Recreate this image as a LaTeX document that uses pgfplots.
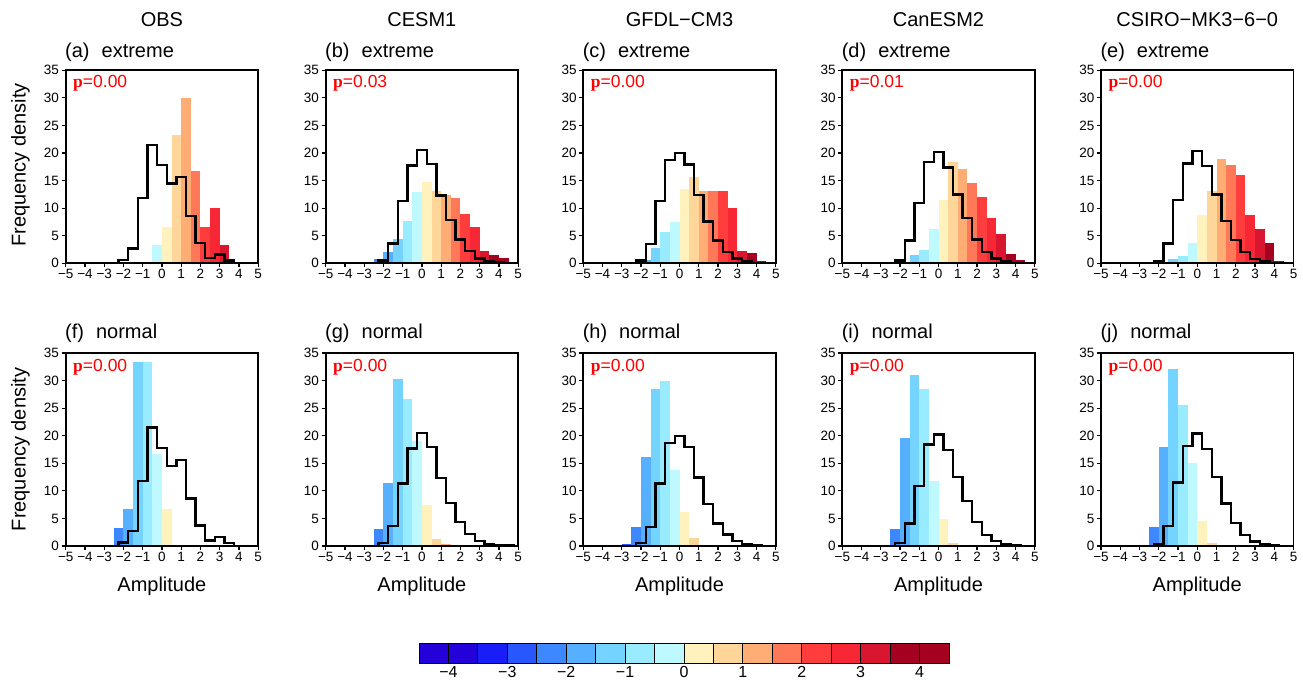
\documentclass[border=0pt]{standalone}
\usepackage{pgfplots}
\usepackage{pgfplotstable}
\pgfplotsset{compat=1.18}
\usepackage{fontspec}
\setmainfont{Liberation Sans}
\newfontfamily\serifp{Liberation Serif}

% colour boxes of the colour bar, -4.5 ... 4.5 in steps of 0.5
\definecolor{c01}{RGB}{36,0,217}
\definecolor{c02}{RGB}{36,0,217}
\definecolor{c03}{RGB}{25,29,247}
\definecolor{c04}{RGB}{41,87,255}
\definecolor{c05}{RGB}{61,135,255}
\definecolor{c06}{RGB}{87,176,255}
\definecolor{c07}{RGB}{117,211,255}
\definecolor{c08}{RGB}{153,235,255}
\definecolor{c09}{RGB}{189,249,255}
\definecolor{c10}{RGB}{255,242,189}
\definecolor{c11}{RGB}{255,214,153}
\definecolor{c12}{RGB}{255,172,117}
\definecolor{c13}{RGB}{255,120,87}
\definecolor{c14}{RGB}{255,61,61}
\definecolor{c15}{RGB}{247,39,54}
\definecolor{c16}{RGB}{217,22,48}
\definecolor{c17}{RGB}{166,0,33}
\definecolor{c18}{RGB}{166,0,33}

% step outlines (left edge, density)
\pgfplotstableread{
x y
-5 0
-2.25 0.6
-1.75 2.7
-1.25 11.8
-0.75 21.5
-0.25 17.8
0.25 14.5
0.75 15.6
1.25 8.6
1.75 3.7
2.25 1.0
2.75 1.6
3.25 0.5
3.75 0
5 0
}\stOBS
\pgfplotstableread{
x y
-5 0
-2.25 0.5
-1.75 3.6
-1.25 11.3
-0.75 17.7
-0.25 20.5
0.25 18.0
0.75 12.3
1.25 7.8
1.75 4.3
2.25 2.2
2.75 0.9
3.25 0.3
3.75 0.2
4.25 0.1
4.75 0
5 0
}\stCESM
\pgfplotstableread{
x y
-5 0
-2.25 0.5
-1.75 3.5
-1.25 11.3
-0.75 18.7
-0.25 20.0
0.25 17.9
0.75 12.4
1.25 7.6
1.75 4.1
2.25 2.1
2.75 0.9
3.25 0.3
3.75 0.1
4.25 0
5 0
}\stGFDL
\pgfplotstableread{
x y
-5 0
-2.25 0.5
-1.75 4.1
-1.25 10.9
-0.75 18.4
-0.25 20.2
0.25 17.4
0.75 12.5
1.25 8.2
1.75 4.3
2.25 2.0
2.75 0.9
3.25 0.3
3.75 0.1
4.25 0
5 0
}\stCan
\pgfplotstableread{
x y
-5 0
-2.25 0.4
-1.75 3.6
-1.25 11.5
-0.75 18.1
-0.25 20.4
0.25 17.6
0.75 12.5
1.25 7.7
1.75 4.2
2.25 2.0
2.75 0.8
3.25 0.4
3.75 0.1
4.25 0
5 0
}\stCSIRO

\pgfplotsset{
  panel/.style={
    scale only axis, width=192.5pt, height=193pt,
    anchor=south west,
    xmin=-5, xmax=5, ymin=0, ymax=35,
    xtick={-5,...,5}, ytick={0,5,...,35},
    xticklabels={−5,−4,−3,−2,−1,0,1,2,3,4,5},
    yticklabels={0,5,10,15,20,25,30,35},
    tick pos=left, tick align=outside,
    major tick length=4pt,
    tick style={black, line width=1.2pt},
    axis line style={line width=1.9pt},
    tick label style={font=\fontsize{13.5}{14}\selectfont},
    xticklabel style={inner sep=2pt},
    yticklabel style={inner sep=2.5pt},
    axis on top,
  },
  hb/.style={ybar, bar width=0.5, bar shift=0pt, draw=none, fill=#1},
  stepl/.style={const plot, black, line width=2.4pt, no marks},
}
\tikzset{
  pval/.style={anchor=west, inner sep=0pt, text=red, font=\fontsize{17.5}{18}\selectfont},
  ttl/.style={font=\fontsize{20}{24}\selectfont, inner sep=0pt},
}
\newcommand\pv[1]{{\serifp\bfseries p}=#1}

\begin{document}
\begin{tikzpicture}[x=1pt,y=1pt]
\path[use as bounding box] (0,0) rectangle (1303,683);

% ---------- top row: extreme ----------
\begin{axis}[panel, at={(65.7pt,419.7pt)}]
\addplot[hb=c09] coordinates {(-0.25,3.33)};
\addplot[hb=c10] coordinates {(0.25,6.67)};
\addplot[hb=c11] coordinates {(0.75,23.33)};
\addplot[hb=c12] coordinates {(1.25,30)};
\addplot[hb=c13] coordinates {(1.75,16.67)};
\addplot[hb=c14] coordinates {(2.25,6.67)};
\addplot[hb=c15] coordinates {(2.75,10)};
\addplot[hb=c16] coordinates {(3.25,3.33)};
\addplot[stepl] table {\stOBS};
\node[pval] at (rel axis cs:0.038,0.935) {\pv{0.00}};
\end{axis}

\begin{axis}[panel, at={(325.7pt,419.7pt)}]
\addplot[hb=c04] coordinates {(-2.75,0.2)};
\addplot[hb=c05] coordinates {(-2.25,0.8)};
\addplot[hb=c06] coordinates {(-1.75,2.1)};
\addplot[hb=c07] coordinates {(-1.25,4.4)};
\addplot[hb=c08] coordinates {(-0.75,7.6)};
\addplot[hb=c09] coordinates {(-0.25,13.0)};
\addplot[hb=c10] coordinates {(0.25,14.8)};
\addplot[hb=c11] coordinates {(0.75,13.1)};
\addplot[hb=c12] coordinates {(1.25,12.4)};
\addplot[hb=c13] coordinates {(1.75,11.9)};
\addplot[hb=c14] coordinates {(2.25,9.0)};
\addplot[hb=c15] coordinates {(2.75,6.6)};
\addplot[hb=c16] coordinates {(3.25,2.3)};
\addplot[hb=c17] coordinates {(3.75,1.5)};
\addplot[hb=c18] coordinates {(4.25,1.0)};
\addplot[stepl] table {\stCESM};
\node[pval] at (rel axis cs:0.038,0.935) {\pv{0.03}};
\end{axis}

\begin{axis}[panel, at={(583.3pt,419.7pt)}]
\addplot[hb=c05] coordinates {(-2.25,0.3)};
\addplot[hb=c06] coordinates {(-1.75,0.6)};
\addplot[hb=c07] coordinates {(-1.25,2.7)};
\addplot[hb=c08] coordinates {(-0.75,5.7)};
\addplot[hb=c09] coordinates {(-0.25,7.4)};
\addplot[hb=c10] coordinates {(0.25,13.5)};
\addplot[hb=c11] coordinates {(0.75,15.7)};
\addplot[hb=c12] coordinates {(1.25,13.1)};
\addplot[hb=c13] coordinates {(1.75,13.1)};
\addplot[hb=c14] coordinates {(2.25,13.1)};
\addplot[hb=c15] coordinates {(2.75,10.1)};
\addplot[hb=c16] coordinates {(3.25,2.3)};
\addplot[hb=c17] coordinates {(3.75,1.9)};
\addplot[hb=c18] coordinates {(4.25,0.4)};
\addplot[stepl] table {\stGFDL};
\node[pval] at (rel axis cs:0.038,0.935) {\pv{0.00}};
\end{axis}

\begin{axis}[panel, at={(842.3pt,419.7pt)}]
\addplot[hb=c06] coordinates {(-1.75,0.2)};
\addplot[hb=c07] coordinates {(-1.25,1.5)};
\addplot[hb=c08] coordinates {(-0.75,2.4)};
\addplot[hb=c09] coordinates {(-0.25,6.2)};
\addplot[hb=c10] coordinates {(0.25,11.5)};
\addplot[hb=c11] coordinates {(0.75,18.4)};
\addplot[hb=c12] coordinates {(1.25,17.1)};
\addplot[hb=c13] coordinates {(1.75,14.5)};
\addplot[hb=c14] coordinates {(2.25,12.1)};
\addplot[hb=c15] coordinates {(2.75,8.3)};
\addplot[hb=c16] coordinates {(3.25,5.3)};
\addplot[hb=c17] coordinates {(3.75,1.7)};
\addplot[hb=c18] coordinates {(4.25,0.6)};
\addplot[stepl] table {\stCan};
\node[pval] at (rel axis cs:0.038,0.935) {\pv{0.01}};
\end{axis}

\begin{axis}[panel, at={(1101pt,419.7pt)}]
\addplot[hb=c07] coordinates {(-1.25,0.8)};
\addplot[hb=c08] coordinates {(-0.75,1.3)};
\addplot[hb=c09] coordinates {(-0.25,3.75)};
\addplot[hb=c10] coordinates {(0.25,8.7)};
\addplot[hb=c11] coordinates {(0.75,13.1)};
\addplot[hb=c12] coordinates {(1.25,19.0)};
\addplot[hb=c13] coordinates {(1.75,17.9)};
\addplot[hb=c14] coordinates {(2.25,16.1)};
\addplot[hb=c15] coordinates {(2.75,8.8)};
\addplot[hb=c16] coordinates {(3.25,6.2)};
\addplot[hb=c17] coordinates {(3.75,3.6)};
\addplot[hb=c18] coordinates {(4.25,0.4)};
\addplot[stepl] table {\stCSIRO};
\node[pval] at (rel axis cs:0.038,0.935) {\pv{0.00}};
\end{axis}

% ---------- bottom row: normal ----------
\begin{axis}[panel, at={(65.7pt,137pt)}]
\addplot[hb=c05] coordinates {(-2.25,3.33)};
\addplot[hb=c06] coordinates {(-1.75,6.67)};
\addplot[hb=c07] coordinates {(-1.25,33.33)};
\addplot[hb=c08] coordinates {(-0.75,33.33)};
\addplot[hb=c09] coordinates {(-0.25,16.67)};
\addplot[hb=c10] coordinates {(0.25,6.67)};
\addplot[stepl] table {\stOBS};
\node[pval] at (rel axis cs:0.038,0.925) {\pv{0.00}};
\end{axis}

\begin{axis}[panel, at={(325.7pt,137pt)}]
\addplot[hb=c05] coordinates {(-2.25,3.0)};
\addplot[hb=c06] coordinates {(-1.75,11.5)};
\addplot[hb=c07] coordinates {(-1.25,30.2)};
\addplot[hb=c08] coordinates {(-0.75,26.6)};
\addplot[hb=c09] coordinates {(-0.25,19.0)};
\addplot[hb=c10] coordinates {(0.25,7.4)};
\addplot[hb=c11] coordinates {(0.75,1.3)};
\addplot[hb=c12] coordinates {(1.25,0.3)};
\addplot[stepl] table {\stCESM};
\node[pval] at (rel axis cs:0.038,0.925) {\pv{0.00}};
\end{axis}

\begin{axis}[panel, at={(583.3pt,137pt)}]
\addplot[hb=c04] coordinates {(-2.75,0.3)};
\addplot[hb=c05] coordinates {(-2.25,3.5)};
\addplot[hb=c06] coordinates {(-1.75,16.2)};
\addplot[hb=c07] coordinates {(-1.25,28.4)};
\addplot[hb=c08] coordinates {(-0.75,29.9)};
\addplot[hb=c09] coordinates {(-0.25,13.8)};
\addplot[hb=c10] coordinates {(0.25,6.2)};
\addplot[hb=c11] coordinates {(0.75,1.45)};
\addplot[stepl] table {\stGFDL};
\node[pval] at (rel axis cs:0.038,0.925) {\pv{0.00}};
\end{axis}

\begin{axis}[panel, at={(842.3pt,137pt)}]
\addplot[hb=c05] coordinates {(-2.25,3.0)};
\addplot[hb=c06] coordinates {(-1.75,19.6)};
\addplot[hb=c07] coordinates {(-1.25,31.1)};
\addplot[hb=c08] coordinates {(-0.75,28.4)};
\addplot[hb=c09] coordinates {(-0.25,11.8)};
\addplot[hb=c10] coordinates {(0.25,4.9)};
\addplot[hb=c11] coordinates {(0.75,0.5)};
\addplot[stepl] table {\stCan};
\node[pval] at (rel axis cs:0.038,0.925) {\pv{0.00}};
\end{axis}

\begin{axis}[panel, at={(1101pt,137pt)}]
\addplot[hb=c05] coordinates {(-2.25,3.5)};
\addplot[hb=c06] coordinates {(-1.75,18.0)};
\addplot[hb=c07] coordinates {(-1.25,32.1)};
\addplot[hb=c08] coordinates {(-0.75,25.5)};
\addplot[hb=c09] coordinates {(-0.25,15.1)};
\addplot[hb=c10] coordinates {(0.25,4.5)};
\addplot[hb=c11] coordinates {(0.75,0.5)};
\addplot[stepl] table {\stCSIRO};
\node[pval] at (rel axis cs:0.038,0.925) {\pv{0.00}};
\end{axis}

% ---------- colour bar ----------
\begin{axis}[scale only axis, width=530pt, height=20pt,
    anchor=south west, at={(419pt,20pt)},
    xmin=-4.5, xmax=4.5, ymin=0, ymax=1,
    ytick=\empty, xtick={-4,...,4},
    xticklabels={−4,−3,−2,−1,0,1,2,3,4},
    major tick length=0pt, axis line style={line width=0.9pt},
    tick label style={font=\fontsize{16}{16}\selectfont},
    axis on top]
\addplot[ybar interval, fill=c01, draw=black, line width=0.8pt] coordinates {(-4.5,1)(-4,1)};
\addplot[ybar interval, fill=c02, draw=black, line width=0.8pt] coordinates {(-4,1)(-3.5,1)};
\addplot[ybar interval, fill=c03, draw=black, line width=0.8pt] coordinates {(-3.5,1)(-3,1)};
\addplot[ybar interval, fill=c04, draw=black, line width=0.8pt] coordinates {(-3,1)(-2.5,1)};
\addplot[ybar interval, fill=c05, draw=black, line width=0.8pt] coordinates {(-2.5,1)(-2,1)};
\addplot[ybar interval, fill=c06, draw=black, line width=0.8pt] coordinates {(-2,1)(-1.5,1)};
\addplot[ybar interval, fill=c07, draw=black, line width=0.8pt] coordinates {(-1.5,1)(-1,1)};
\addplot[ybar interval, fill=c08, draw=black, line width=0.8pt] coordinates {(-1,1)(-0.5,1)};
\addplot[ybar interval, fill=c09, draw=black, line width=0.8pt] coordinates {(-0.5,1)(0,1)};
\addplot[ybar interval, fill=c10, draw=black, line width=0.8pt] coordinates {(0,1)(0.5,1)};
\addplot[ybar interval, fill=c11, draw=black, line width=0.8pt] coordinates {(0.5,1)(1,1)};
\addplot[ybar interval, fill=c12, draw=black, line width=0.8pt] coordinates {(1,1)(1.5,1)};
\addplot[ybar interval, fill=c13, draw=black, line width=0.8pt] coordinates {(1.5,1)(2,1)};
\addplot[ybar interval, fill=c14, draw=black, line width=0.8pt] coordinates {(2,1)(2.5,1)};
\addplot[ybar interval, fill=c15, draw=black, line width=0.8pt] coordinates {(2.5,1)(3,1)};
\addplot[ybar interval, fill=c16, draw=black, line width=0.8pt] coordinates {(3,1)(3.5,1)};
\addplot[ybar interval, fill=c17, draw=black, line width=0.8pt] coordinates {(3.5,1)(4,1)};
\addplot[ybar interval, fill=c18, draw=black, line width=0.8pt] coordinates {(4,1)(4.5,1)};
\end{axis}

% ---------- titles and labels ----------
\node[ttl] at (161.9,663) {OBS};
\node[ttl] at (421.9,663) {CESM1};
\node[ttl] at (679.5,663) {GFDL−CM3};
\node[ttl] at (938.5,663) {CanESM2};
\node[ttl] at (1197.2,663) {CSIRO−MK3−6−0};

\node[ttl, anchor=west] at (65,631) {(a)\hspace{0.6em}extreme};
\node[ttl, anchor=west] at (325,631) {(b)\hspace{0.6em}extreme};
\node[ttl, anchor=west] at (582.6,631) {(c)\hspace{0.6em}extreme};
\node[ttl, anchor=west] at (841.6,631) {(d)\hspace{0.6em}extreme};
\node[ttl, anchor=west] at (1100.3,631) {(e)\hspace{0.6em}extreme};
\node[ttl, anchor=west] at (65,350) {(f)\hspace{0.6em}normal};
\node[ttl, anchor=west] at (325,350) {(g)\hspace{0.6em}normal};
\node[ttl, anchor=west] at (582.6,350) {(h)\hspace{0.6em}normal};
\node[ttl, anchor=west] at (841.6,350) {(i)\hspace{0.6em}normal};
\node[ttl, anchor=west] at (1100.3,350) {(j)\hspace{0.6em}normal};

\node[ttl, rotate=90] at (20.5,518) {Frequency density};
\node[ttl, rotate=90] at (20.5,233.5) {Frequency density};

\node[ttl] at (161.9,97) {Amplitude};
\node[ttl] at (421.9,97) {Amplitude};
\node[ttl] at (679.5,97) {Amplitude};
\node[ttl] at (938.5,97) {Amplitude};
\node[ttl] at (1197.2,97) {Amplitude};
\end{tikzpicture}
\end{document}
